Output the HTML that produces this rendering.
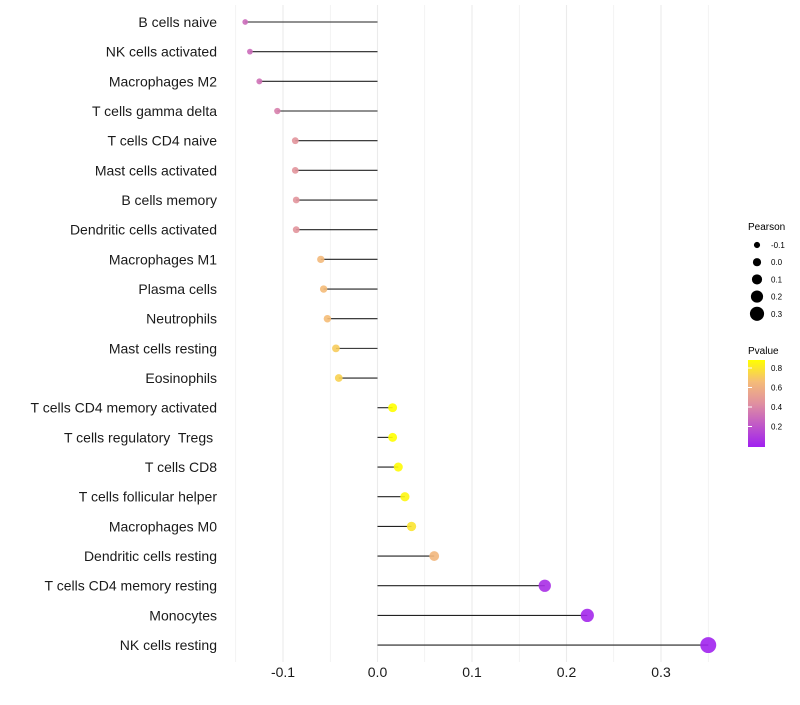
<!DOCTYPE html>
<html><head><meta charset="utf-8"><style>
body{margin:0;background:#fff;}
svg{font-family:"Liberation Sans",sans-serif;}
text{white-space:pre;}
</style></head><body>
<svg id="chart" width="800" height="700">
<defs><linearGradient id="pg" x1="0" y1="1" x2="0" y2="0">
<stop offset="0" stop-color="#A020F0"/><stop offset="0.5" stop-color="#E090A0"/><stop offset="0.75" stop-color="#F5BC78"/><stop offset="1" stop-color="#FFFF00"/></linearGradient></defs>
<g id="grid"></g><g id="marks"></g><g id="ylabels"></g><g id="xlabels"></g>
<g>
<text x="748" y="230" font-size="10">Pearson</text>
<g id="sizeLeg"></g>
</g>
<g>
<text x="748" y="354" font-size="10">Pvalue</text>
<rect x="748" y="360" width="17" height="87" fill="url(#pg)"/>
<g id="colLeg"></g>
</g>
</svg>
<script>
const categories=["B cells naive","NK cells activated","Macrophages M2","T cells gamma delta","T cells CD4 naive","Mast cells activated","B cells memory","Dendritic cells activated","Macrophages M1","Plasma cells","Neutrophils","Mast cells resting","Eosinophils","T cells CD4 memory activated","T cells regulatory  Tregs ","T cells CD8","T cells follicular helper","Macrophages M0","Dendritic cells resting","T cells CD4 memory resting","Monocytes","NK cells resting"];
const pearson=[-0.140,-0.135,-0.125,-0.106,-0.087,-0.087,-0.086,-0.086,-0.060,-0.057,-0.053,-0.044,-0.041,0.016,0.016,0.022,0.029,0.036,0.060,0.177,0.222,0.350];
const pvalue=[0.3,0.3,0.32,0.38,0.47,0.47,0.47,0.47,0.65,0.66,0.67,0.72,0.74,0.9,0.9,0.88,0.86,0.8,0.64,0.06,0.03,0.01];
const xTicks=[-0.1,0,0.1,0.2,0.3];
const xTickLabels=["-0.1","0.0","0.1","0.2","0.3"];
const sizeLegVals=[-0.1,0,0.1,0.2,0.3];
const colLegVals=[0.2,0.4,0.6,0.8];
const NS="http://www.w3.org/2000/svg";
const X=v=>377.5+v*945;
const Y=i=>22+i*29.67;
const R=v=>Math.max(1.8,4.3+v*10.5);
const stops=[[0,[160,32,240]],[0.5,[224,144,160]],[0.75,[245,188,120]],[1,[255,255,0]]];
function col(p){const t=Math.min(1,p/0.89);
 for(let k=0;k<stops.length-1;k++){const [t0,a]=stops[k],[t1,b]=stops[k+1];
  if(t<=t1){const u=(t-t0)/(t1-t0);return `rgb(${a.map((c,j)=>Math.round(c+(b[j]-c)*u)).join(",")})`;}}
 return "rgb(255,255,0)";}
function el(tag,attrs,parent,txt){const e=document.createElementNS(NS,tag);for(const k in attrs)e.setAttribute(k,attrs[k]);if(txt!==undefined)e.textContent=txt;document.getElementById(parent).appendChild(e);return e;}
for(let v=-0.15;v<=0.351;v+=0.05){const l=el("line",{x1:X(v),x2:X(v),y1:5,y2:662,stroke:"#ebebeb","stroke-width":Math.abs(Math.round(v*20))%2===0?1.1:0.6},"grid");

}
xTicks.forEach((v,i)=>{const t=el("text",{x:X(v),y:677,"font-size":14,"text-anchor":"middle",fill:"#1a1a1a"},"xlabels",xTickLabels[i]);

});
categories.forEach((c,i)=>{
 const t=el("text",{x:217,y:Y(i)+5,"font-size":14,"text-anchor":"end",fill:"#1a1a1a"},"ylabels",c);
 
 
 const s=el("line",{x1:X(0),x2:X(pearson[i]),y1:Y(i),y2:Y(i),stroke:"#222","stroke-width":1.1},"marks");
 
 
 const d=el("circle",{cx:X(pearson[i]),cy:Y(i),r:R(pearson[i]),fill:col(pvalue[i]),"fill-opacity":0.9},"marks");
 
 
});
sizeLegVals.forEach((v,i)=>{const y=245+i*17.2;
 const c=el("circle",{cx:757,cy:y,r:R(v)*0.95,fill:"#000"},"sizeLeg");
 
 
 const t=el("text",{x:771,y:y+3,"font-size":8},"sizeLeg",v.toFixed(1));
 
 });
colLegVals.forEach(v=>{const y=446-v*97.5;
 const t=el("text",{x:771,y:y+3,"font-size":8},"colLeg",v.toFixed(1));
 
 
 const l=el("line",{x1:748,x2:752,y1:y,y2:y,stroke:"#fff"},"colLeg");
 
 });
</script>
</body></html>
